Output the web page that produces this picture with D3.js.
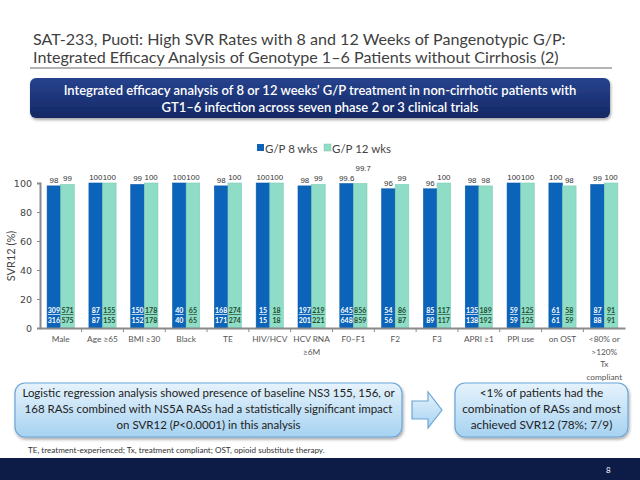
<!DOCTYPE html>
<html>
<head>
<meta charset="utf-8">
<script src="https://cdn.jsdelivr.net/npm/d3@7"></script>
<style>
  html, body { margin: 0; padding: 0; background: #fff; }
  svg { display: block; }
</style>
</head>
<body>
<script>
// ---------------- DATA ----------------
const categories = ["Male", "Age ≥65", "BMI ≥30", "Black", "TE", "HIV/HCV", "HCV RNA\n≥6M", "F0–F1", "F2", "F3", "APRI ≥1", "PPI use", "on OST", "<80% or\n>120%\nTx\ncompliant"];
const series = ["G/P 8 wks", "G/P 12 wks"];
const svr8 = [98, 100, 99, 100, 98, 100, 98, 99.6, 96, 96, 98, 100, 100, 99];
const svr12 = [99, 100, 100, 100, 100, 100, 99, 99.7, 99, 100, 98, 100, 98, 100];
const num8 = [309, 87, 150, 40, 168, 15, 197, 645, 54, 85, 135, 59, 61, 87];
const den8 = [316, 87, 152, 40, 171, 15, 201, 648, 56, 89, 138, 59, 61, 88];
const num12 = [571, 155, 178, 65, 274, 18, 219, 856, 86, 117, 189, 125, 58, 91];
const den12 = [575, 155, 178, 65, 274, 18, 221, 859, 87, 117, 192, 125, 59, 91];
const yTicks = [0, 20, 40, 60, 80, 100];

const titleLines = ["SAT-233, Puoti: High SVR Rates with 8 and 12 Weeks of Pangenotypic G/P:",
                    "Integrated Efficacy Analysis of Genotype 1–6 Patients without Cirrhosis (2)"];
const bannerLines = ["Integrated efficacy analysis of 8 or 12 weeks’ G/P treatment in non-cirrhotic patients with",
                     "GT1–6 infection across seven phase 2 or 3 clinical trials"];
const leftBoxLines = ["Logistic regression analysis showed presence of baseline NS3 155, 156, or",
                      "168 RASs combined with NS5A RASs had a statistically significant impact",
                      "on SVR12 (|P|<0.0001) in this analysis"];
const rightBoxLines = ["<1% of patients had the", "combination of RASs and most", "achieved SVR12 (78%; 7/9)"];
const footnote = "TE, treatment-experienced; Tx, treatment compliant; OST, opioid substitute therapy.";
const pageNumber = "8";

// ---------------- SETUP ----------------
const W = 640, H = 480;
const FONT = "Lato, 'Open Sans', sans-serif";
const colors = ["#0b64b9", "#8fdcc7"];
const svg = d3.select("body").append("svg").attr("width", W).attr("height", H);
const defs = svg.append("defs");

const g1 = defs.append("linearGradient").attr("id", "navy").attr("x1", 0).attr("y1", 0).attr("x2", 0).attr("y2", 1);
g1.append("stop").attr("offset", "0%").attr("stop-color", "#27438e");
g1.append("stop").attr("offset", "100%").attr("stop-color", "#142865");
const g2 = defs.append("linearGradient").attr("id", "lblue").attr("x1", 0).attr("y1", 0).attr("x2", 0).attr("y2", 1);
g2.append("stop").attr("offset", "0%").attr("stop-color", "#e6f3fc");
g2.append("stop").attr("offset", "100%").attr("stop-color", "#a6d2f1");
const sh = defs.append("filter").attr("id", "shadow").attr("x", "-5%").attr("y", "-10%").attr("width", "110%").attr("height", "130%");
sh.append("feDropShadow").attr("dx", 1).attr("dy", 2).attr("stdDeviation", 1.5).attr("flood-color", "#000").attr("flood-opacity", 0.35);

// ---------------- TITLE ----------------
svg.append("g").selectAll("text").data(titleLines).join("text")
  .attr("x", 33).attr("y", (d, i) => 45 + i * 18)
  .attr("font-family", FONT).attr("font-size", 16.1).attr("fill", "#3f3f3f")
  .text(d => d);
svg.append("line").attr("x1", 30).attr("x2", 612).attr("y1", 68).attr("y2", 68)
  .attr("stroke", "#9a9a9a").attr("stroke-width", 1.5);

// banner
svg.append("rect").attr("x", 30).attr("y", 78).attr("width", 580).attr("height", 40).attr("rx", 6)
  .attr("fill", "url(#navy)").attr("filter", "url(#shadow)");
svg.append("g").selectAll("text").data(bannerLines).join("text")
  .attr("x", 320).attr("y", (d, i) => 94.5 + i * 17).attr("text-anchor", "middle")
  .attr("font-family", FONT).attr("font-size", 13).attr("font-weight", 600).attr("fill", "#fff")
  .text(d => d);

// ---------------- CHART ----------------
const x0 = d3.scaleBand().domain(categories).range([40, 625]).paddingInner(0.35).paddingOuter(0.17);
const x1 = d3.scaleBand().domain(series).range([0, x0.bandwidth()]);
const y = d3.scaleLinear().domain([0, 100]).range([328, 183]);

// legend
const leg = svg.append("g").attr("font-family", FONT).attr("font-size", 11.5).attr("fill", "#444");
const legX = [257, 324];
series.forEach((s, i) => {
  leg.append("rect").attr("x", legX[i]).attr("y", 144).attr("width", 7).attr("height", 7)
    .attr("fill", colors[i]).attr("stroke", i ? "#7cc5b0" : "none").attr("stroke-width", 0.5);
  leg.append("text").attr("x", legX[i] + 8).attr("y", 152.5).text(s);
});

const rows = categories.map((c, i) => ({
  cat: c,
  vals: [
    { s: series[0], v: svr8[i], n: num8[i], d: den8[i], k: 0 },
    { s: series[1], v: svr12[i], n: num12[i], d: den12[i], k: 1 }
  ]
}));

const groups = svg.append("g").selectAll("g").data(rows).join("g")
  .attr("transform", d => `translate(${x0(d.cat)},0)`);

groups.selectAll("rect").data(d => d.vals).join("rect")
  .attr("x", d => x1(d.s)).attr("y", d => y(d.v))
  .attr("width", x1.bandwidth()).attr("height", d => y(0) - y(d.v))
  .attr("fill", d => colors[d.k])
  .attr("stroke", d => d.k ? "#7fcdb7" : "#0a5aa8").attr("stroke-width", 0.6);

// value labels
const bw = x1.bandwidth();
groups.selectAll("text.val").data(d => d.vals.map(v => Object.assign({ dec: d.vals.every(q => q.v % 1 !== 0) }, v)))
  .join("text").attr("class", "val")
  .attr("x", d => x1(d.s) + bw / 2 + (d.dec && d.k ? 3 : 0))
  .attr("y", d => y(d.v) - 3 - (d.dec && d.k ? 9 : 0))
  .attr("text-anchor", "middle")
  .attr("font-family", "'Liberation Sans', Arial, sans-serif").attr("font-size", 7.9)
  .attr("fill", "#333")
  .text(d => d.v);

// fraction labels
function fracText(cls, yy, key, underline) {
  groups.selectAll("text." + cls).data(d => d.vals).join("text").attr("class", cls)
    .attr("x", d => x1(d.s) + bw / 2).attr("y", yy)
    .attr("text-anchor", "middle").attr("font-family", FONT).attr("font-size", 7)
    .attr("font-weight", 700).attr("text-decoration", underline ? "underline" : null)
    .attr("fill", d => d.k ? "#1e4d2e" : "#fff")
    .text(d => d[key]);
}
fracText("num", y(0) - 15, "n", true);
fracText("den", y(0) - 5.5, "d", false);

// y axis
const yAxis = svg.append("g").attr("transform", "translate(40,0)")
  .call(d3.axisLeft(y).tickValues(yTicks).tickSize(3).tickPadding(5));
yAxis.select(".domain").attr("stroke", "#8a8a8a").attr("stroke-width", 2);
yAxis.selectAll(".tick line").attr("stroke", "#8a8a8a");
yAxis.selectAll(".tick text").attr("font-family", "'DejaVu Sans', sans-serif").attr("font-size", 9.5).attr("fill", "#444");

svg.append("text").attr("transform", "translate(15,256) rotate(-90)")
  .attr("text-anchor", "middle").attr("font-family", FONT).attr("font-size", 11).attr("fill", "#444")
  .text("SVR12 (%)");

// x axis
const xAxis = svg.append("g").attr("transform", `translate(0,${y(0)})`)
  .call(d3.axisBottom(x0).tickSize(0).tickFormat(""));
xAxis.select(".domain").attr("stroke", "#8a8a8a").attr("stroke-width", 2);
const step = x0.step();
svg.append("g").selectAll("line").data(categories.slice(1)).join("line")
  .attr("x1", d => x0(d) - (step - x0.bandwidth()) / 2).attr("x2", d => x0(d) - (step - x0.bandwidth()) / 2)
  .attr("y1", y(0)).attr("y2", y(0) + 4).attr("stroke", "#8a8a8a").attr("stroke-width", 1);

// x labels
const xl = svg.append("g").selectAll("text").data(categories).join("text")
  .attr("x", d => x0(d) + x0.bandwidth() / 2).attr("y", 342)
  .attr("text-anchor", "middle").attr("font-family", FONT).attr("font-size", 8.3).attr("fill", "#555");
xl.each(function (d) {
  const t = d3.select(this);
  d.split("\n").forEach((ln, i) => {
    t.append("tspan").attr("x", x0(d) + x0.bandwidth() / 2).attr("dy", i ? 12.5 : 0).text(ln);
  });
});

// ---------------- BOXES ----------------
svg.append("rect").attr("x", 15).attr("y", 383).attr("width", 387).attr("height", 54).attr("rx", 10)
  .attr("fill", "url(#lblue)").attr("stroke", "#6ba5d6").attr("stroke-width", 1.2).attr("filter", "url(#shadow)");
svg.append("rect").attr("x", 455).attr("y", 383).attr("width", 173).attr("height", 54).attr("rx", 10)
  .attr("fill", "url(#lblue)").attr("stroke", "#6ba5d6").attr("stroke-width", 1.2).attr("filter", "url(#shadow)");
svg.append("path").attr("d", "M412,401 L428,401 L428,392 L442,410 L428,428 L428,419 L412,419 Z")
  .attr("fill", "url(#lblue)").attr("stroke", "#6ba5d6").attr("stroke-width", 1.2);

function boxText(lines, cx, y0, fs) {
  const g = svg.append("g").attr("font-family", FONT).attr("font-size", fs).attr("fill", "#222");
  lines.forEach((ln, i) => {
    const t = g.append("text").attr("x", cx).attr("y", y0 + i * 16).attr("text-anchor", "middle");
    ln.split("|").forEach((part, j) => {
      t.append("tspan").attr("font-style", j % 2 ? "italic" : "normal").text(part);
    });
  });
}
boxText(leftBoxLines, 208.5, 397, 11.5);
boxText(rightBoxLines, 541.5, 397, 11.8);

svg.append("text").attr("x", 28).attr("y", 453).attr("font-family", FONT).attr("font-size", 8.1)
  .attr("fill", "#333").text(footnote);

// bottom band
svg.append("rect").attr("x", 0).attr("y", 458).attr("width", W).attr("height", 22).attr("fill", "#0d1c47");
svg.append("text").attr("x", 606).attr("y", 473).attr("font-family", FONT).attr("font-size", 8)
  .attr("fill", "#fff").text(pageNumber);
</script>
</body>
</html>
